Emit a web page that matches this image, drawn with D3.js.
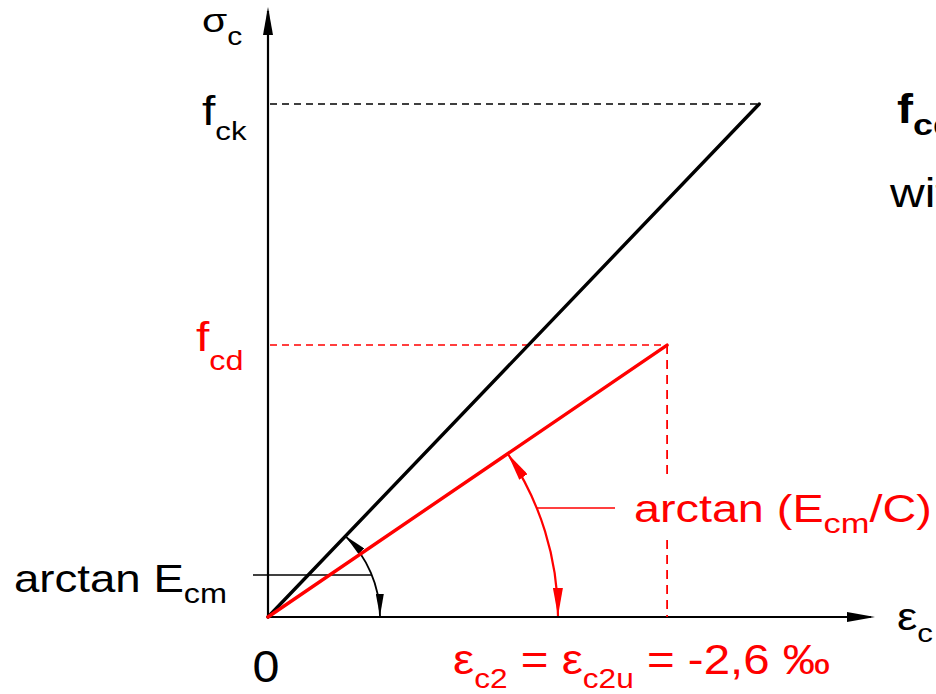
<!DOCTYPE html>
<html>
<head>
<meta charset="utf-8">
<script src="https://cdn.jsdelivr.net/npm/d3@7"></script>
<style>
  html, body { margin: 0; padding: 0; background: #fff; }
  svg { display: block; font-family: "Liberation Sans", Arial, Helvetica, sans-serif; }
</style>
</head>
<body>
<svg id="chart" width="936" height="694"></svg>
<script>
// Linear stress-strain laws for concrete (strain in ‰, stress relative to f_ck)
const curveKeys   = ["ck", "cd"];
const curveStrain = [3.2, 2.6];   // end strain of each branch, ‰
const curveStress = [1.0, 0.53];  // stress level at the end, / f_ck
const curveColors = ["#000000", "#ff0000"];
const angleLabels = ["arctan E", "arctan (E"];

const svg = d3.select("#chart");
const W = 936, H = 694;

// scales: origin of the diagram and extent of the axes
const x = d3.scaleLinear().domain([0, 4]).range([268, 882]);
const y = d3.scaleLinear().domain([0, 1]).range([617, 104]);
const x0 = x(0), y0 = y(0);
const xAxisEnd = 875, yAxisEnd = 7;

const defs = svg.append("defs");
function arrowMarker(id, len, wid, color, orient) {
  defs.append("marker")
    .attr("id", id)
    .attr("viewBox", `${-len} ${-wid / 2} ${len} ${wid}`)
    .attr("markerWidth", len).attr("markerHeight", wid)
    .attr("markerUnits", "userSpaceOnUse")
    .attr("refX", 0).attr("refY", 0)
    .attr("orient", orient)
    .append("path")
    .attr("d", `M0,0L${-len},${-wid / 2}L${-len},${wid / 2}Z`)
    .attr("fill", color);
}
arrowMarker("axisArrow", 28, 10, "#000", "auto");
arrowMarker("blkEnd", 22, 8, "#000", "auto");
arrowMarker("blkStart", 22, 8, "#000", "auto-start-reverse");
arrowMarker("redEnd", 28, 10, "#f00", "auto");
arrowMarker("redStart", 28, 10, "#f00", "auto-start-reverse");

// axes
svg.append("line")
  .attr("x1", x0).attr("y1", y0).attr("x2", x0).attr("y2", yAxisEnd + 4)
  .attr("stroke", "#000").attr("stroke-width", 2.2);
svg.append("path")
  .attr("d", `M${x0},${yAxisEnd + 28}L${x0},${yAxisEnd}`)
  .attr("stroke", "none").attr("marker-end", "url(#axisArrow)");
svg.append("line")
  .attr("x1", x0).attr("y1", y0).attr("x2", xAxisEnd - 4).attr("y2", y0)
  .attr("stroke", "#000").attr("stroke-width", 2);
svg.append("path")
  .attr("d", `M${xAxisEnd - 28},${y0}L${xAxisEnd},${y0}`)
  .attr("stroke", "none").attr("marker-end", "url(#axisArrow)");

// dashed helper lines to the end points
curveKeys.forEach((k, i) => {
  const ex = x(curveStrain[i]), ey = y(curveStress[i]);
  svg.append("line")
    .attr("x1", x0 + 2).attr("y1", ey).attr("x2", ex).attr("y2", ey)
    .attr("stroke", curveColors[i]).attr("stroke-width", 1.5)
    .attr("stroke-dasharray", "7,5");
  if (k === "cd") {
    svg.append("line")
      .attr("x1", ex).attr("y1", ey).attr("x2", ex).attr("y2", y0)
      .attr("stroke", curveColors[i]).attr("stroke-width", 1.8)
      .attr("stroke-dasharray", "9,6");
  }
});

// angle arcs with double arrows and leader lines
const arcRadius = [112, 290];
const leaderY = [575, 508];
const leaderOuter = [253, 615];
function arcGeom(i) {
  const ang = Math.atan2(y0 - y(curveStress[i]), x(curveStrain[i]) - x0);
  const r = arcRadius[i];
  return { ang, r,
    sx: x0 + r * Math.cos(ang), sy: y0 - r * Math.sin(ang),
    ex: x0 + r, ey: y0 - 1 };
}
curveKeys.forEach((k, i) => {
  const g = arcGeom(i);
  const col = curveColors[i];
  // leader line meets the arc where the arc reaches leaderY
  const dy = y0 - leaderY[i];
  const lx = x0 + Math.sqrt(g.r * g.r - dy * dy);
  svg.append("line")
    .attr("x1", leaderOuter[i]).attr("y1", leaderY[i])
    .attr("x2", lx).attr("y2", leaderY[i])
    .attr("stroke", col).attr("stroke-width", 1.5);
  svg.append("path")
    .attr("d", `M${g.sx},${g.sy}A${g.r},${g.r} 0 0 1 ${g.ex},${g.ey}`)
    .attr("fill", "none").attr("stroke", col)
    .attr("stroke-width", i === 0 ? 1.8 : 2.2)
    .attr("marker-start", i === 0 ? "url(#blkStart)" : "url(#redStart)")
    .attr("marker-end", i === 0 ? "url(#blkEnd)" : "url(#redEnd)");
});

// stress-strain lines
curveKeys.forEach((k, i) => {
  svg.append("line")
    .attr("x1", x0).attr("y1", y0)
    .attr("x2", x(curveStrain[i])).attr("y2", y(curveStress[i]))
    .attr("stroke", curveColors[i]).attr("stroke-width", 3.4)
    .attr("stroke-linecap", "round");
});

// text with subscripts; glyphs are drawn slightly wide
function label(px, py, parts, opts = {}) {
  const sx = opts.sx || 1.2;
  const t = svg.append("text")
    .attr("transform", `translate(${px},${py}) scale(${sx},1)`)
    .attr("fill", opts.color || "#000")
    .attr("font-weight", opts.weight || "normal")
    .attr("text-anchor", opts.anchor || "start");
  let shift = 0;
  parts.forEach(p => {
    const s = p.sub || 0;
    t.append("tspan")
      .attr("font-size", p.size)
      .attr("dy", s - shift)
      .text(p.t);
    shift = s;
  });
  return t;
}

// white background behind the design-angle label
svg.append("rect")
  .attr("x", 628).attr("y", 478).attr("width", W - 628).attr("height", 62)
  .attr("fill", "#fff");

label(202, 32, [{ t: "σ", size: 34 }, { t: "c", size: 25, sub: 13 }]);
label(202, y(curveStress[0]) + 21, [{ t: "f", size: 40 }, { t: "ck", size: 26, sub: 15 }]);
label(196, y(curveStress[1]) + 6, [{ t: "f", size: 40 }, { t: "cd", size: 27, sub: 19 }], { color: "#f00" });
label(14, 592, [{ t: angleLabels[0], size: 38 }, { t: "cm", size: 27, sub: 11 }]);
label(634, 522, [{ t: angleLabels[1], size: 38 }, { t: "cm", size: 28, sub: 11 }, { t: "/C)", size: 38 }], { color: "#f00", sx: 1.23 });
label(x0 - 2, 682, [{ t: "0", size: 44 }], { anchor: "middle", sx: 1.1 });
label(897, 630, [{ t: "ε", size: 38 }, { t: "c", size: 26, sub: 12 }]);
label(453, 674, [
  { t: "ε", size: 42 }, { t: "c2", size: 28, sub: 14 },
  { t: " = ε", size: 42 }, { t: "c2u", size: 28, sub: 14 },
  { t: " = -" + curveStrain[1].toFixed(1).replace(".", ",") + " ‰", size: 42 }
], { color: "#f00", sx: 1.13 });

// side note (continues past the right edge)
label(897, 123, [{ t: "f", size: 40 }, { t: "cd", size: 30, sub: 12 }, { t: " = α", size: 40 }], { weight: "bold" });
label(890, 207, [{ t: "with", size: 40 }]);
</script>
</body>
</html>
